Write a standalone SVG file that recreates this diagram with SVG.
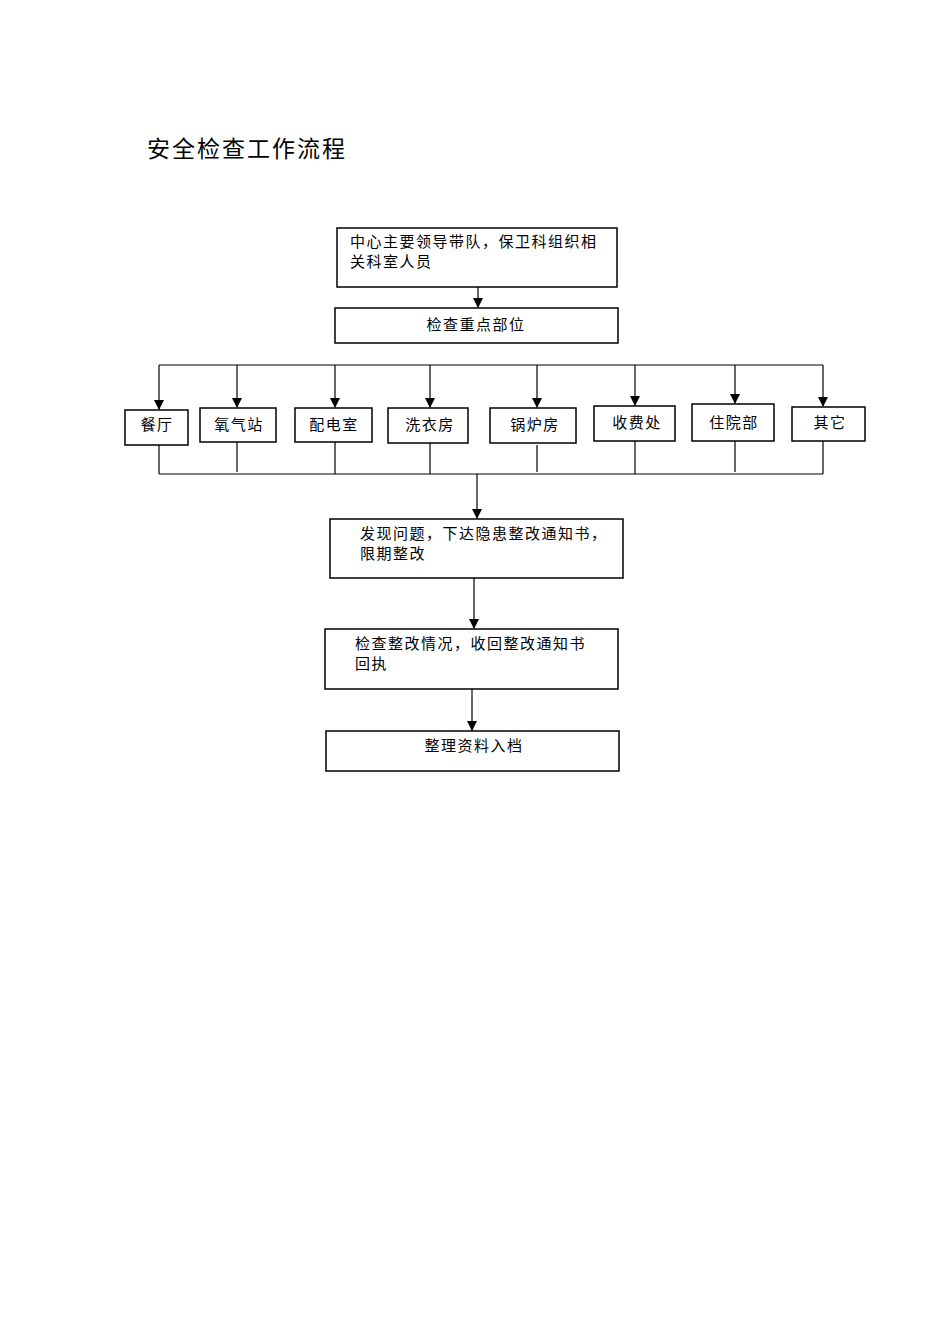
<svg xmlns="http://www.w3.org/2000/svg" width="950" height="1344" viewBox="0 0 950 1344">
<style>
rect{fill:#fff;stroke:#000;stroke-width:1.5}
text{font-family:"Noto Sans CJK SC","Liberation Serif",serif;font-size:15px;fill:#000;letter-spacing:1.5px}
.c line,.c path{stroke:#000;stroke-width:1.2;fill:none}
</style>
<defs><marker id="a" markerWidth="10" markerHeight="10" refX="9" refY="5" orient="auto" markerUnits="userSpaceOnUse"><path d="M0,0L10,5L0,10z" fill="#000"/></marker></defs>
<rect width="950" height="1344" style="stroke:none"/>
<text x="147" y="157" style="font-size:23px;letter-spacing:2px">安全检查工作流程</text>
<g class="c">
<line x1="478" y1="287" x2="478" y2="307" marker-end="url(#a)"/>
<line x1="159" y1="365" x2="823" y2="365"/>
<line x1="159" y1="365" x2="159" y2="409" marker-end="url(#a)"/>
<line x1="237" y1="365" x2="237" y2="407" marker-end="url(#a)"/>
<line x1="335" y1="365" x2="335" y2="407" marker-end="url(#a)"/>
<line x1="430" y1="365" x2="430" y2="407" marker-end="url(#a)"/>
<line x1="537" y1="365" x2="537" y2="407" marker-end="url(#a)"/>
<line x1="635" y1="365" x2="635" y2="405" marker-end="url(#a)"/>
<line x1="735" y1="365" x2="735" y2="403" marker-end="url(#a)"/>
<line x1="823" y1="365" x2="823" y2="406" marker-end="url(#a)"/>
<line x1="159" y1="445" x2="159" y2="474"/>
<line x1="237" y1="442" x2="237" y2="472"/>
<line x1="335" y1="442" x2="335" y2="474"/>
<line x1="430" y1="443" x2="430" y2="474"/>
<line x1="537" y1="445" x2="537" y2="472"/>
<line x1="635" y1="441" x2="635" y2="474"/>
<line x1="735" y1="441" x2="735" y2="472"/>
<line x1="823" y1="441" x2="823" y2="474"/>
<line x1="159" y1="474" x2="823" y2="474"/>
<line x1="477" y1="474" x2="477" y2="518" marker-end="url(#a)"/>
<line x1="474" y1="578" x2="474" y2="628" marker-end="url(#a)"/>
<line x1="472" y1="689" x2="472" y2="730" marker-end="url(#a)"/>
</g>
<g id="n1"><rect x="337" y="228" width="280" height="59"/><text x="350" y="247">中心主要领导带队，保卫科组织相</text><text x="350" y="267">关科室人员</text></g>
<g id="n2"><rect x="335" y="308" width="283" height="35"/><text x="476" y="330" text-anchor="middle">检查重点部位</text></g>
<g id="n3"><rect x="125" y="410" width="63" height="35"/><text x="157" y="430" text-anchor="middle">餐厅</text></g>
<g id="n4"><rect x="200" y="408" width="76" height="34"/><text x="239" y="430" text-anchor="middle">氧气站</text></g>
<g id="n5"><rect x="295" y="408" width="77" height="34"/><text x="334" y="430" text-anchor="middle">配电室</text></g>
<g id="n6"><rect x="388" y="408" width="80" height="35"/><text x="430" y="430" text-anchor="middle">洗衣房</text></g>
<g id="n7"><rect x="490" y="408" width="86" height="35"/><text x="535" y="430" text-anchor="middle">锅炉房</text></g>
<g id="n8"><rect x="594" y="406" width="81" height="35"/><text x="637" y="428" text-anchor="middle">收费处</text></g>
<g id="n9"><rect x="692" y="404" width="82" height="37"/><text x="734" y="428" text-anchor="middle">住院部</text></g>
<g id="n10"><rect x="792" y="407" width="73" height="34"/><text x="830" y="428" text-anchor="middle">其它</text></g>
<g id="n11"><rect x="330" y="519" width="293" height="59"/><text x="360" y="539">发现问题，下达隐患整改通知书，</text><text x="360" y="559">限期整改</text></g>
<g id="n12"><rect x="325" y="629" width="293" height="60"/><text x="355" y="649">检查整改情况，收回整改通知书</text><text x="355" y="669">回执</text></g>
<g id="n13"><rect x="326" y="731" width="293" height="40"/><text x="474" y="751" text-anchor="middle">整理资料入档</text></g>
</svg>
